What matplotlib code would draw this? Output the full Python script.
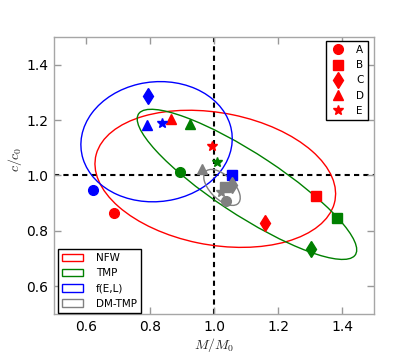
import numpy as np
import matplotlib
matplotlib.use("Agg")
import matplotlib.pyplot as plt
from matplotlib.patches import Ellipse
from matplotlib.lines import Line2D

plt.rcParams['font.family'] = ['DejaVu Sans']
plt.rcParams['mathtext.fontset'] = 'cm'

labels = ['A', 'B', 'C', 'D', 'E']
markers = ['o', 's', 'd', '^', '*']
msizes = [7, 7, 8.5, 7.5, 7.5]

models = ['NFW', 'TMP', 'f(E,L)', 'DM-TMP']
colors = ['#ff0000', '#008000', '#0000ff', '#808080']

# M/M0 and c/c0 per model for A..E
x_nfw = [0.687, 1.320, 1.160, 0.865, 0.995]
y_nfw = [0.866, 0.925, 0.830, 1.204, 1.107]
x_tmp = [0.894, 1.385, 1.303, 0.925, 1.009]
y_tmp = [1.014, 0.845, 0.733, 1.186, 1.050]
x_fel = [0.622, 1.056, 0.794, 0.790, 0.838]
y_fel = [0.948, 1.002, 1.288, 1.183, 1.190]
x_dm = [1.037, 1.034, 1.055, 0.962, 1.021]
y_dm = [0.909, 0.960, 0.966, 1.025, 0.942]
xs = [x_nfw, x_tmp, x_fel, x_dm]
ys = [y_nfw, y_tmp, y_fel, y_dm]

# ellipse: centre, half-extent in x and y, correlation
ell_cx = [1.004, 1.103, 0.8205, 1.025]
ell_cy = [0.988, 0.968, 1.122, 0.957]
ell_sx = [0.376, 0.343, 0.2365, 0.057]
ell_sy = [0.2475, 0.271, 0.217, 0.065]
ell_rho = [-0.218, -0.872, 0.05, -0.58]

fig = plt.figure(figsize=(4.15, 3.63), dpi=100)
ax = fig.add_axes([54/415, 1-314/363, 320/415, 277/363])

ax.axvline(1.0, color='k', lw=1.5, dashes=(2.5, 2), zorder=1)
ax.axhline(1.0, color='k', lw=1.5, dashes=(2.5, 2), zorder=1)

handles = []
for i in range(4):
    sxy = ell_rho[i]*ell_sx[i]*ell_sy[i]
    cov = np.array([[ell_sx[i]**2, sxy], [sxy, ell_sy[i]**2]])
    vals, vecs = np.linalg.eigh(cov)
    order = vals.argsort()[::-1]
    vals, vecs = vals[order], vecs[:, order]
    ang = np.degrees(np.arctan2(vecs[1, 0], vecs[0, 0]))
    e = Ellipse((ell_cx[i], ell_cy[i]), 2*np.sqrt(vals[0]), 2*np.sqrt(vals[1]),
                angle=ang, facecolor='none', edgecolor=colors[i], lw=1.0,
                label=models[i], zorder=2)
    ax.add_patch(e)
    handles.append(e)

for i in range(4):
    for j in range(5):
        ax.plot(xs[i][j], ys[i][j], marker=markers[j], ms=msizes[j],
                color=colors[i], mec=colors[i], ls='none', zorder=3)

ax.set_xlim(0.5, 1.5)
ax.set_ylim(0.5, 1.5)
ax.set_xticks([0.6, 0.8, 1.0, 1.2, 1.4])
ax.set_yticks([0.6, 0.8, 1.0, 1.2, 1.4])
ax.tick_params(direction='in', length=5, width=1, color='0.6',
               top=True, right=True, labelsize=10, pad=4)
for s in ax.spines.values():
    s.set_color('0.65')
    s.set_linewidth(1.0)

ax.set_xlabel(r'$M/M_0$', fontsize=10, color='0.15')
ax.set_ylabel(r'$c/c_0$', fontsize=10, color='0.15')
ax.yaxis.set_label_coords(-0.095, 0.56)
ax.xaxis.labelpad = 2

mk_handles = [Line2D([], [], marker=markers[j], ms=msizes[j], color='#ff0000',
                     ls='none', label=labels[j]) for j in range(5)]
leg1 = ax.legend(handles=mk_handles, loc='upper right',
                 bbox_to_anchor=(0.982, 0.986), borderaxespad=0,
                 fontsize=7.5, numpoints=1, fancybox=False, framealpha=1,
                 edgecolor='k', handlelength=1.5, handletextpad=1.0)
leg1.get_frame().set_linewidth(1.0)
ax.add_artist(leg1)

leg2 = ax.legend(handles=handles, loc='lower left',
                 bbox_to_anchor=(0.013, 0.004), borderaxespad=0,
                 fontsize=7.5, fancybox=False, framealpha=1, edgecolor='k',
                 handlelength=2.0, handleheight=0.7, handletextpad=1.2)
leg2.get_frame().set_linewidth(1.0)

fig.savefig('out.png', dpi=100)
